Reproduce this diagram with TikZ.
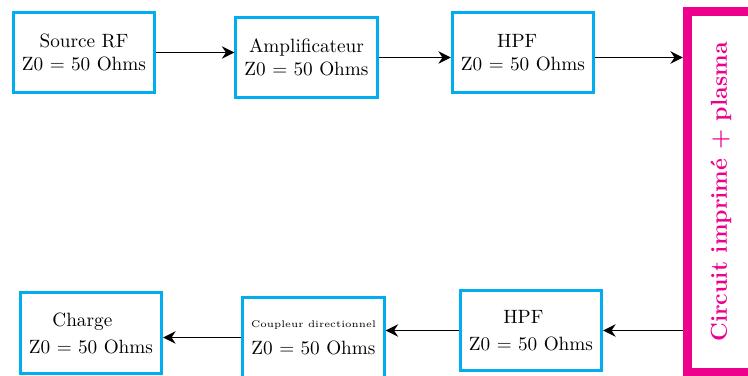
\documentclass[tikz,border=0pt]{standalone}
\usetikzlibrary{arrows.meta}
\definecolor{blocblue}{RGB}{0,174,239}
\definecolor{pcbpink}{RGB}{236,0,140}
\tikzset{
  bloc/.style={draw=blocblue,line width=1.5pt,minimum width=73.5pt,minimum height=42pt,align=center,inner sep=2pt},
  pcb/.style={draw=pcbpink,line width=4.6pt,minimum width=35pt,minimum height=188pt,inner sep=0pt},
  fleche/.style={->,line width=.8pt}
}
\begin{document}
\begin{tikzpicture}[x=.52pt,y=-.52pt,>={Stealth[length=6.5pt,width=6.5pt]}]
\clip (0,0) rectangle (748,376);
% chaine aller
\node[bloc] (src) at (84,52.5) {Source RF\\ Z0 = 50 Ohms};
\node[bloc] (ampli) at (306.5,57.5) {Amplificateur\\ Z0 = 50 Ohms};
\node[bloc] (hpfa) at (523,52.5) {HPF\hspace*{6pt}\\ Z0 = 50 Ohms};
% circuit
\node[pcb] (circuit) at (721,192) {};
\node[rotate=90,text=pcbpink,font=\large\bfseries] (circuittxt) at (circuit.center) {Circuit imprimé + plasma};
% chaine retour
\node[bloc] (hpfb) at (531,330.5) {HPF\hspace*{8pt}\\[2pt] Z0 = 50 Ohms};
\node[bloc] (coupl) at (313.5,337.5) {{\tiny Coupleur directionnel}\\[2pt] Z0 = 50 Ohms};
\node[bloc] (charge) at (91,333) {Charge\hspace*{9pt}\\[2pt] Z0 = 50 Ohms};
\draw[fleche] (src.east)--(src.east -| ampli.west);
\draw[fleche] (ampli.east)--(ampli.east -| hpfa.west);
\draw[fleche] (hpfa.east |- ampli.east)--(ampli.east -| circuit.west);
\draw[fleche] (circuit.west |- hpfb.east)--(hpfb.east);
\draw[fleche] (hpfb.west)--(hpfb.west -| coupl.east);
\draw[fleche] (coupl.west)--(coupl.west -| charge.east);
\end{tikzpicture}
\end{document}
